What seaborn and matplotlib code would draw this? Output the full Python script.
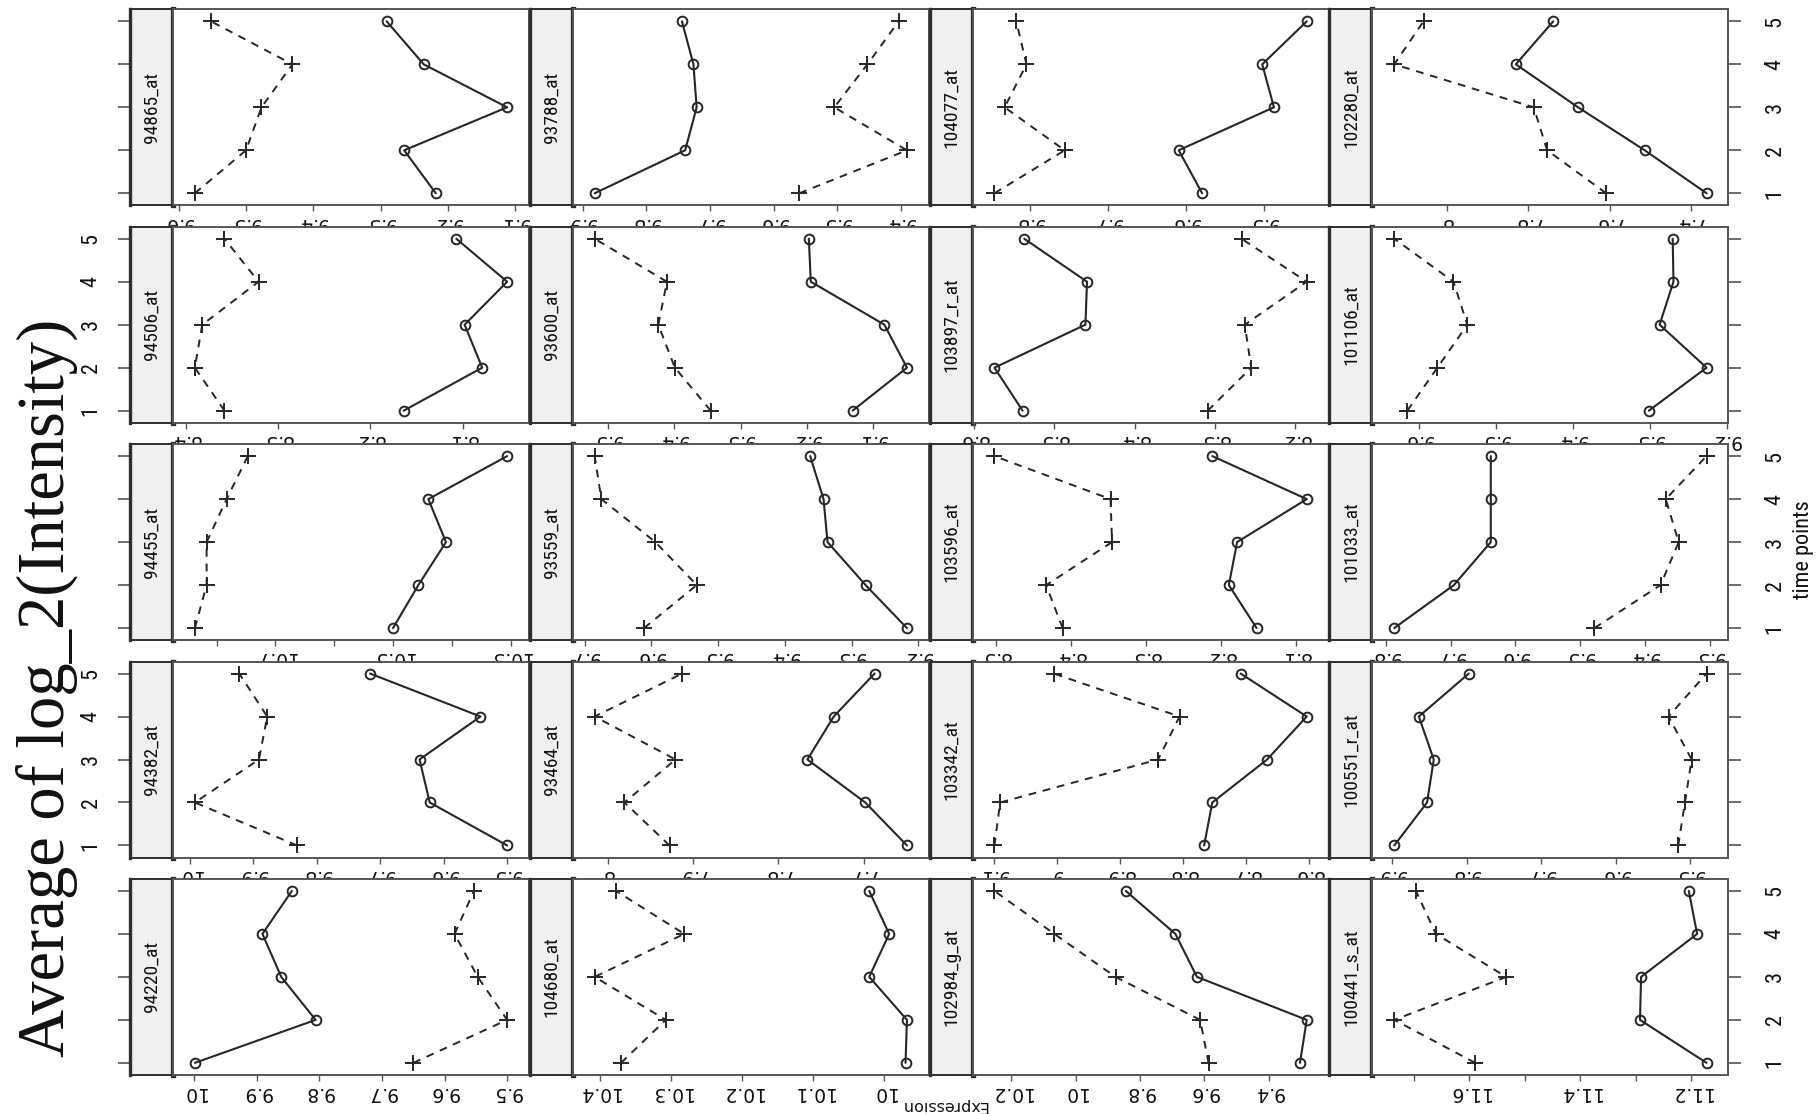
import numpy as np
import pandas as pd
import seaborn as sns
import matplotlib.pyplot as plt
from matplotlib import font_manager as fm
from matplotlib import transforms as mtransforms

# ---- data -----------------------------------------------------------------
# probe sets, listed row by row (top to bottom), left to right
probes = [
    "94865_at", "93788_at", "104077_at", "102280_at",
    "94506_at", "93600_at", "103897_r_at", "101106_at",
    "94455_at", "93559_at", "103596_at", "101033_at",
    "94382_at", "93464_at", "103342_at", "100551_r_at",
    "94220_at", "104680_at", "102984_g_at", "100441_s_at",
]

time_points = [1, 2, 3, 4, 5]
time_labels = ["1", "2", "3", "4", "5"]

# solid line with open circles, one list per probe (time points 1..5)
solid_expr = [
    [9.218, 9.265, 9.112, 9.236, 9.291],
    [9.881, 9.739, 9.721, 9.726, 9.744],
    [9.579, 9.609, 9.487, 9.502, 9.445],
    [7.362, 7.514, 7.678, 7.831, 7.739],
    [8.164, 8.079, 8.098, 8.052, 8.107],
    [9.131, 9.049, 9.083, 9.194, 9.197],
    [8.539, 8.574, 8.461, 8.459, 8.537],
    [9.301, 9.226, 9.287, 9.269, 9.270],
    [10.500, 10.457, 10.410, 10.440, 10.306],
    [9.217, 9.279, 9.336, 9.342, 9.362],
    [8.152, 8.189, 8.178, 8.085, 8.211],
    [9.787, 9.695, 9.638, 9.638, 9.638],
    [9.500, 9.622, 9.638, 9.542, 9.716],
    [7.649, 7.698, 7.766, 7.735, 7.687],
    [8.767, 8.754, 8.667, 8.604, 8.709],
    [9.897, 9.853, 9.844, 9.864, 9.797],
    [9.999, 9.806, 9.861, 9.891, 9.844],
    [9.970, 9.968, 10.021, 9.993, 10.021],
    [9.303, 9.282, 9.623, 9.690, 9.844],
    [11.172, 11.292, 11.290, 11.189, 11.204],
]

# dashed line with plus signs
dashed_expr = [
    [9.576, 9.500, 9.477, 9.431, 9.552],
    [9.560, 9.391, 9.505, 9.453, 9.404],
    [9.845, 9.755, 9.832, 9.804, 9.817],
    [7.609, 7.754, 7.787, 8.130, 8.058],
    [8.358, 8.390, 8.382, 8.321, 8.358],
    [9.345, 9.399, 9.424, 9.411, 9.520],
    [8.309, 8.255, 8.263, 8.186, 8.267],
    [9.615, 9.576, 9.537, 9.555, 9.632],
    [10.837, 10.817, 10.817, 10.783, 10.747],
    [9.611, 9.532, 9.594, 9.675, 9.685],
    [8.411, 8.433, 8.345, 8.347, 8.502],
    [9.478, 9.376, 9.348, 9.368, 9.305],
    [9.831, 9.992, 9.891, 9.878, 9.922],
    [7.928, 7.981, 7.921, 8.016, 7.913],
    [9.100, 9.091, 8.840, 8.806, 9.006],
    [9.516, 9.507, 9.498, 9.529, 9.478],
    [9.650, 9.500, 9.547, 9.584, 9.553],
    [10.370, 10.307, 10.407, 10.281, 10.377],
    [9.587, 9.613, 9.876, 10.066, 10.252],
    [11.589, 11.735, 11.533, 11.660, 11.696],
]

# expression axis ticks per panel ("" = tick without a label)
expr_ticks = [
    [9.1, 9.2, 9.3, 9.4, 9.5, 9.6],
    [9.4, 9.5, 9.6, 9.7, 9.8, 9.9],
    [9.5, 9.6, 9.7, 9.8],
    [7.4, 7.6, 7.8, 8.0],
    [8.1, 8.2, 8.3, 8.4],
    [9.1, 9.2, 9.3, 9.4, 9.5],
    [8.2, 8.3, 8.4, 8.5, 8.6],
    [9.2, 9.3, 9.4, 9.5, 9.6],
    [10.3, 10.4, 10.5, 10.6, 10.7, 10.8],
    [9.2, 9.3, 9.4, 9.5, 9.6, 9.7],
    [8.1, 8.2, 8.3, 8.4, 8.5],
    [9.3, 9.4, 9.5, 9.6, 9.7, 9.8],
    [9.5, 9.6, 9.7, 9.8, 9.9, 10.0],
    [7.7, 7.8, 7.9, 8.0],
    [8.6, 8.7, 8.8, 8.9, 9.0, 9.1],
    [9.5, 9.6, 9.7, 9.8, 9.9],
    [9.5, 9.6, 9.7, 9.8, 9.9, 10.0],
    [10.0, 10.1, 10.2, 10.3, 10.4],
    [9.4, 9.6, 9.8, 10.0, 10.2],
    [11.2, 11.3, 11.4, 11.5, 11.6, 11.7],
]
expr_ticklabels = [
    ["9.1", "9.2", "9.3", "9.4", "9.5", "9.6"],
    ["9.4", "9.5", "9.6", "9.7", "9.8", "9.9"],
    ["9.5", "9.6", "9.7", "9.8"],
    ["7.4", "7.6", "7.8", "8"],
    ["8.1", "8.2", "8.3", "8.4"],
    ["9.1", "9.2", "9.3", "9.4", "9.5"],
    ["8.2", "8.3", "8.4", "8.5", "8.6"],
    ["9.2", "9.3", "9.4", "9.5", "9.6"],
    ["10.3", "", "10.5", "", "10.7", ""],
    ["9.2", "9.3", "9.4", "9.5", "9.6", "9.7"],
    ["8.1", "8.2", "8.3", "8.4", "8.5"],
    ["9.3", "9.4", "9.5", "9.6", "9.7", "9.8"],
    ["9.5", "9.6", "9.7", "9.8", "9.9", "10"],
    ["7.7", "7.8", "7.9", "8"],
    ["8.6", "8.7", "8.8", "8.9", "9", "9.1"],
    ["9.5", "9.6", "9.7", "9.8", "9.9"],
    ["9.5", "9.6", "9.7", "9.8", "9.9", "10"],
    ["10", "10.1", "10.2", "10.3", "10.4"],
    ["9.4", "9.6", "9.8", "10", "10.2"],
    ["11.2", "", "11.4", "", "11.6", ""],
]

# long-form table used for plotting
records = []
for p, s_vals, d_vals in zip(probes, solid_expr, dashed_expr):
    for t, sv, dv in zip(time_points, s_vals, d_vals):
        records.append((p, t, "solid", sv))
        records.append((p, t, "dashed", dv))
df = pd.DataFrame(records, columns=["probe", "time", "series", "expr"])

# ---- style ----------------------------------------------------------------
sns.set_theme(style="white")
plt.rcParams["font.family"] = ["DejaVu Sans"]


def first_font(candidates):
    for name in candidates:
        try:
            fm.findfont(fm.FontProperties(family=name), fallback_to_default=False)
            return name
        except ValueError:
            continue
    return None


narrow = first_font(["Liberation Sans Narrow", "Arial Narrow", "Roboto Condensed",
                     "Noto Sans Condensed", "Open Sans Condensed", "DejaVu Sans Condensed"])
if narrow is not None:
    NARROW = [narrow, "DejaVu Sans"]
    STRIP_FS, DIGIT_FS = 14, 16
else:
    NARROW = ["Liberation Sans", "DejaVu Sans"]
    STRIP_FS, DIGIT_FS = 11.5, 14

W, H = 1820, 1114
fig = plt.figure(figsize=(W / 100, H / 100), dpi=100)
fig.patch.set_facecolor("white")


def box(x0, top, w, h):
    return [x0 / W, (H - top - h) / H, w / W, h / H]


COL0, COLSTEP, STRIPW, PANELW = 130.0, 399.8, 43.0, 356.0
ROW0, ROWSTEP, PANELH = 9.3, 217.4, 196.0
INK = "#262626"
PAD = 0.07  # axis padding as in lattice
t_lo, t_hi = 1 - 4 * PAD, 5 + 4 * PAD

for idx, probe in enumerate(probes):
    r, c = divmod(idx, 4)
    x0 = COL0 + c * COLSTEP
    top = ROW0 + r * ROWSTEP

    # strip carrying the probe name
    sax = fig.add_axes(box(x0, top, STRIPW, PANELH))
    sax.set_facecolor("#f0f0f0")
    sax.set_xlim(0, 1)
    sax.set_ylim(t_lo, t_hi)
    sax.set_xticks([])
    for side, lw in (("left", 2.4), ("right", 3.8), ("top", 1.4), ("bottom", 1.4)):
        sax.spines[side].set_visible(True)
        sax.spines[side].set_color("#2e2e2e")
        sax.spines[side].set_linewidth(lw)
    sax.text(0.5, 3.0, probe, rotation=90, ha="center", va="center",
             family=NARROW, fontsize=STRIP_FS, color="#111111")
    if c == 0:
        sax.set_yticks(time_points)
        sax.set_yticklabels([""] * 5)
        sax.tick_params(axis="y", left=True, right=False, length=9, width=1.1,
                        color="#444444", direction="out")
        if r % 2 == 1:
            # time labels sit left of the strip on alternating rows
            trans = mtransforms.blended_transform_factory(fig.transFigure, sax.transData)
            for t, lab in zip(time_points, time_labels):
                sax.text(91 / W, t, lab, transform=trans, rotation=90, ha="center",
                         va="center", family=NARROW, fontsize=DIGIT_FS, color="#111111")
    else:
        sax.set_yticks([])

    # panel
    ax = fig.add_axes(box(x0 + STRIPW, top, PANELW, PANELH))
    ax.set_facecolor("white")
    sub = df[df["probe"] == probe]
    solid = sub[sub["series"] == "solid"]
    dashed = sub[sub["series"] == "dashed"]

    sns.lineplot(data=solid, x="expr", y="time", ax=ax, sort=False, estimator=None,
                 orient="y", color=INK, linewidth=1.5, marker="o", markersize=7,
                 markerfacecolor="none", markeredgecolor=INK, markeredgewidth=1.4,
                 legend=False)
    sns.lineplot(data=dashed, x="expr", y="time", ax=ax, sort=False, estimator=None,
                 orient="y", color=INK, linewidth=1.4, linestyle=(0, (4, 3.5)),
                 marker="+", markersize=12, markeredgecolor=INK, markeredgewidth=1.4,
                 legend=False)

    vals = solid["expr"].tolist() + dashed["expr"].tolist()
    lo, hi = min(vals), max(vals)
    span = hi - lo
    ax.set_xlim(hi + PAD * span, lo - PAD * span)
    ax.set_ylim(t_lo, t_hi)
    ax.set_xlabel("")
    ax.set_ylabel("")

    ax.set_xticks(expr_ticks[idx])
    ax.set_xticklabels(expr_ticklabels[idx], rotation=180, fontsize=13.5, color="#111111")
    ax.tick_params(axis="x", bottom=True, top=False, length=4.5, width=1.0,
                   color="#555555", direction="out", pad=1.5)

    if c == 3:
        ax.set_yticks(time_points)
        ax.set_yticklabels(time_labels if r % 2 == 0 else [""] * 5,
                           rotation=90, va="center", family=NARROW, fontsize=DIGIT_FS)
        ax.yaxis.tick_right()
        ax.tick_params(axis="y", left=False, right=True, length=9, width=1.1,
                       color="#444444", direction="out", pad=17, labelcolor="#111111")
    else:
        ax.set_yticks([])

    for side in ("left", "right", "top", "bottom"):
        ax.spines[side].set_visible(True)
        ax.spines[side].set_color("#555555")
        ax.spines[side].set_linewidth(1.4)

# axis titles
fig.text(1804 / W, 1 - 550 / H, "time points", rotation=90, ha="center", va="center",
         family=NARROW, fontsize=DIGIT_FS, color="#111111")
fig.text(944 / W, 1 - 1101 / H, "Expression", rotation=180, rotation_mode="anchor",
         ha="center", va="baseline", fontsize=11.5, color="#111111")
fig.text(64 / W, 1 - 688 / H, "Average of log_2(Intensity)", rotation=90,
         rotation_mode="anchor", ha="center", va="baseline",
         family=["Liberation Serif", "DejaVu Serif"], fontsize=48, color="#111111")

fig.savefig("out.png", dpi=100, facecolor="white")
